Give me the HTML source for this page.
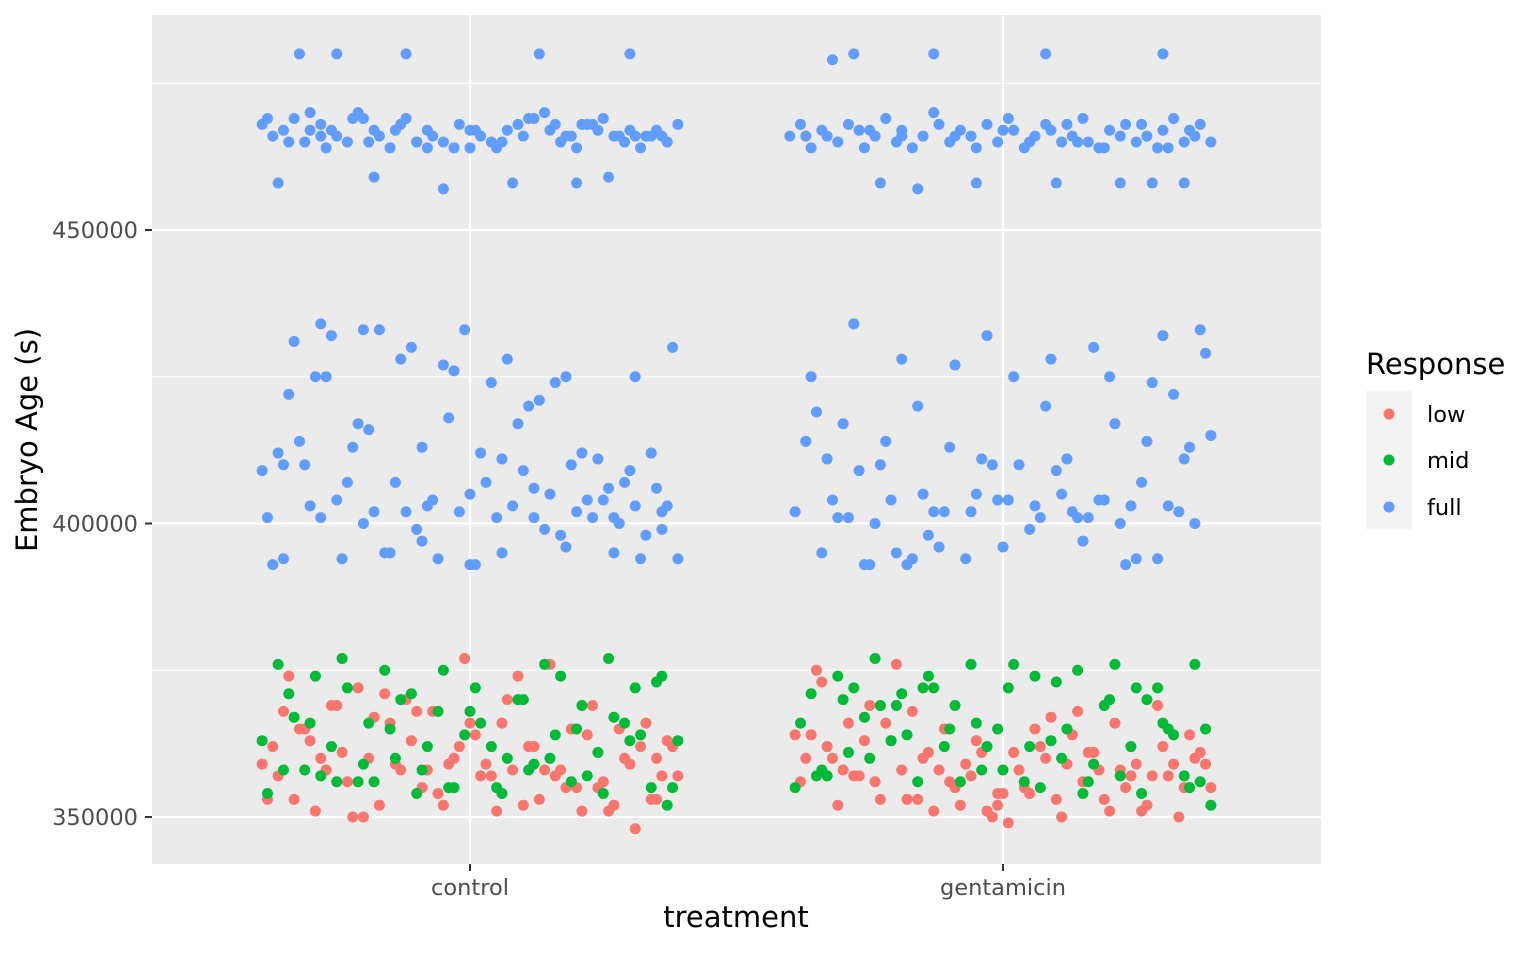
<!DOCTYPE html>
<html><head><meta charset="utf-8">
<style>
body{margin:0;background:#fff;}
svg text{font-family:"DejaVu Sans","Liberation Sans",sans-serif;}
</style></head>
<body>
<svg id="chart" width="1536" height="949" viewBox="0 0 1536 949" xmlns="http://www.w3.org/2000/svg">
<rect x="152" y="15" width="1169" height="849" fill="#EBEBEB"/>
<g id="grid"></g>
<g id="points"></g>
<g id="axes"></g>
<text transform="translate(37,440) rotate(-90)" text-anchor="middle" font-size="29" fill="#000">Embryo Age (s)</text>
<text x="736" y="927" text-anchor="middle" font-size="29" fill="#000">treatment</text>
<g>
<text x="1366" y="374" font-size="29" fill="#000">Response</text>
<rect x="1366" y="391" width="46" height="46" fill="#F2F2F2"/>
<rect x="1366" y="437" width="46" height="46" fill="#F2F2F2"/>
<rect x="1366" y="483" width="46" height="46" fill="#F2F2F2"/>
<circle cx="1389" cy="414" r="5.5" fill="#F8766D"/>
<circle cx="1389" cy="460" r="5.5" fill="#00BA38"/>
<circle cx="1389" cy="507" r="5.5" fill="#619CFF"/>
<text x="1427" y="422" font-size="22.5" fill="#000">low</text>
<text x="1427" y="468" font-size="22.5" fill="#000">mid</text>
<text x="1427" y="515" font-size="22.5" fill="#000">full</text>
</g>
</svg>
<script>
const categories = ["control","gentamicin"];
const yTicks = [350000,400000,450000];
const yMinorTicks = [375000,425000,475000];
const responses = ["low","mid","full"];
const colors = {low:"#F8766D",mid:"#00BA38",full:"#619CFF"};

// jitter offsets (category units) and ages (thousands of s)
const ctlFullTopX = [-.39,-.37,-.35,-.33,-.31,-.3,-.28,-.26,-.25,-.23,-.21,-.2,-.18,-.17,-.15,-.13,-.12,-.1,-.08,-.07,-.05,-.03,-.02,0,.02,.04,.05,.07,.09,.1,.12,.14,.15,.17,.19,.2,.22,.24,.25,.27,.29,.3,.32,.34,.35,.37,.39,-.32,-.25,-.12,.13,.3,-.18,-.05,.08,.2,.26,-.36,-.28,-.1,0,.16,.33,-.22,-.14,.06,.23,.36,-.3,.11,-.34,-.08,.18,.28,-.27,-.19,.01,.21,-.38,.31];
const ctlFullTopY = [468,466,467,469,465,470,468,467,466,465,470,469,467,466,464,468,469,465,467,466,465,464,468,467,466,465,464,467,468,466,469,470,467,465,466,464,468,467,469,466,465,467,464,466,467,465,468,480,480,480,480,480,459,457,458,458,459,458,466,465,464,468,466,469,467,465,468,466,467,469,465,464,466,466,464,465,467,468,469,466];
const ctlFullMidX = [-.39,-.38,-.36,-.35,-.33,-.32,-.3,-.29,-.28,-.26,-.25,-.24,-.22,-.21,-.2,-.18,-.17,-.16,-.14,-.13,-.12,-.1,-.09,-.08,-.06,-.05,-.04,-.02,-.01,0,.02,.03,.04,.06,.07,.08,.1,.11,.12,.14,.15,.16,.18,.19,.2,.22,.23,.24,.26,.27,.28,.3,.31,.32,.34,.35,.36,.38,.39,-.37,-.31,-.27,-.19,-.15,-.07,-.03,.01,.05,.09,.13,.17,.21,.25,.29,.33,.37,-.34,-.23,-.11,.0,.12,.27,-.28,-.09,.18,.36,-.2,.06,.31,-.35];
const ctlFullMidY = [409,401,412,394,431,414,403,425,401,432,404,394,413,417,400,402,433,395,407,428,402,399,413,403,394,427,418,402,433,405,412,407,424,395,428,403,409,420,401,399,405,424,396,410,402,404,401,411,406,395,400,409,403,394,412,406,402,430,394,393,410,425,416,395,404,426,393,401,417,421,398,412,404,407,398,403,422,407,430,393,406,401,434,397,425,399,433,411,425,410];
const ctlLowX = [-.39,-.37,-.35,-.33,-.31,-.29,-.27,-.25,-.23,-.21,-.19,-.17,-.15,-.13,-.11,-.09,-.07,-.05,-.03,-.01,.01,.03,.05,.07,.09,.11,.13,.15,.17,.19,.21,.23,.25,.27,.29,.31,.33,.35,.37,.39,-.38,-.34,-.3,-.26,-.22,-.18,-.14,-.1,-.06,-.02,.02,.06,.1,.14,.18,.22,.26,.3,.34,.38,-.36,-.28,-.2,-.12,-.04,.04,.12,.2,.28,.36,-.32,-.16,0,.16,.32,-.24,.08,.24,-.08,.35];
const ctlLowY = [359,362,368,353,365,351,358,369,356,372,360,352,366,358,363,355,368,352,360,377,364,359,351,370,374,362,353,376,358,365,351,369,356,352,360,348,366,353,363,357,353,374,363,369,350,367,359,368,354,362,357,366,352,358,355,364,351,359,353,362,357,360,350,370,359,357,362,355,365,357,365,371,366,357,362,361,358,355,358,360];
const ctlMidX = [-.39,-.36,-.34,-.31,-.29,-.26,-.24,-.21,-.19,-.16,-.14,-.11,-.09,-.06,-.04,-.01,.01,.04,.06,.09,.11,.14,.16,.19,.21,.24,.26,.29,.31,.34,.36,.39,-.38,-.33,-.28,-.23,-.18,-.13,-.08,-.03,.02,.07,.12,.17,.22,.27,.32,.37,-.35,-.25,-.15,-.05,.05,.15,.25,.35,-.3,-.1,.1,.3,-.2,.2,0,.38];
const ctlMidY = [363,376,371,358,374,362,377,356,366,375,360,371,358,368,355,364,372,362,354,370,358,376,364,356,369,361,377,366,372,355,374,363,354,367,357,372,356,370,362,355,366,360,359,374,357,367,364,352,358,356,365,375,355,360,354,373,366,354,370,363,359,365,368,355];
const genFullTopX = [-.4,-.38,-.36,-.34,-.33,-.31,-.29,-.27,-.26,-.24,-.22,-.2,-.19,-.17,-.15,-.13,-.12,-.1,-.08,-.06,-.05,-.03,-.01,.01,.02,.04,.06,.08,.09,.11,.13,.15,.16,.18,.2,.22,.23,.25,.27,.29,.3,.32,.34,.36,.37,.39,-.32,-.28,-.13,.08,.3,-.16,-.05,.1,.22,.28,.34,-.23,-.37,.0,.14,.26,-.09,.19,.35,-.25,.05,-.19,.31,.12];
const genFullTopY = [466,468,464,467,466,465,468,467,464,466,469,465,467,464,466,470,468,465,467,466,464,468,465,469,467,464,466,468,467,465,466,469,465,464,467,466,468,465,466,464,467,469,465,466,468,465,479,480,480,480,480,457,458,458,458,458,458,458,466,467,465,468,466,464,467,467,465,466,464,468];
const genFullMidX = [-.39,-.37,-.36,-.34,-.33,-.31,-.3,-.28,-.27,-.25,-.24,-.22,-.21,-.19,-.18,-.16,-.15,-.13,-.12,-.1,-.09,-.07,-.06,-.04,-.03,-.01,0,.02,.03,.05,.06,.08,.09,.11,.12,.14,.15,.17,.18,.2,.21,.23,.24,.26,.27,.29,.3,.32,.33,.35,.36,.38,.39,-.35,-.29,-.23,-.17,-.11,-.05,.01,.07,.13,.19,.25,.31,.37,-.26,-.14,-.02,.1,.22,.34,-.32,.16,.28,-.2];
const genFullMidY = [402,414,425,395,411,401,417,434,409,393,400,414,404,428,393,420,405,402,396,413,427,394,402,411,432,404,396,425,410,399,403,420,428,405,411,401,397,430,404,425,417,393,403,407,414,394,432,422,402,413,400,429,415,419,401,410,394,402,405,404,401,402,404,394,403,433,393,398,410,409,400,411,404,401,424,395];
const genLowX = [-.39,-.37,-.35,-.33,-.31,-.29,-.27,-.25,-.23,-.21,-.19,-.17,-.15,-.13,-.11,-.09,-.07,-.05,-.03,-.01,.01,.03,.05,.07,.09,.11,.13,.15,.17,.19,.21,.23,.25,.27,.29,.31,.33,.35,.37,.39,-.38,-.34,-.3,-.26,-.22,-.18,-.14,-.1,-.06,-.02,.02,.06,.1,.14,.18,.22,.26,.3,.34,.38,-.36,-.28,-.2,-.12,-.04,.04,.12,.2,.28,.36,-.32,-.16,0,.16,.32,-.24,.08,-.08,.24,-.01];
const genLowY = [364,360,375,362,352,366,357,369,353,363,358,368,360,351,365,355,359,363,351,354,349,358,354,362,367,350,364,356,361,353,366,355,359,352,369,357,350,364,361,355,356,373,358,363,366,353,361,356,357,350,361,365,353,368,358,358,351,362,355,359,364,357,376,358,361,355,359,351,357,360,360,353,354,361,359,356,360,352,357,352];
const genMidX = [-.39,-.36,-.34,-.31,-.29,-.26,-.24,-.21,-.19,-.16,-.14,-.11,-.09,-.06,-.04,-.01,.01,.04,.06,.09,.11,.14,.16,.19,.21,.24,.26,.29,.31,.34,.36,.39,-.38,-.33,-.28,-.23,-.18,-.13,-.08,-.03,.02,.07,.12,.17,.22,.27,.32,.37,-.35,-.25,-.15,-.05,.05,.15,.25,.35,-.3,-.1,.1,.3,-.2,.2,0,.38];
const genMidY = [355,371,358,374,361,367,377,363,371,356,374,362,369,376,358,365,372,356,374,363,360,375,356,369,376,362,354,372,365,357,376,352,366,357,372,369,364,372,356,362,376,355,365,359,357,370,364,356,357,360,372,366,362,354,372,355,370,365,373,366,369,370,358,365];

const groups = [
  {cat:0,resp:"full",xs:ctlFullTopX,ys:ctlFullTopY},
  {cat:0,resp:"full",xs:ctlFullMidX,ys:ctlFullMidY},
  {cat:0,resp:"low",xs:ctlLowX,ys:ctlLowY},
  {cat:0,resp:"mid",xs:ctlMidX,ys:ctlMidY},
  {cat:1,resp:"full",xs:genFullTopX,ys:genFullTopY},
  {cat:1,resp:"full",xs:genFullMidX,ys:genFullMidY},
  {cat:1,resp:"low",xs:genLowX,ys:genLowY},
  {cat:1,resp:"mid",xs:genMidX,ys:genMidY}
];

const NS="http://www.w3.org/2000/svg";
const panel={x0:152,x1:1321,y0:15,y1:864};
function xScale(c){ return 470 + c*533; }
function yScale(v){ return 817 - (v-350000)*(293.5/50000); }
function mk(tag,attrs,parent){const e=document.createElementNS(NS,tag);for(const k in attrs)e.setAttribute(k,attrs[k]);parent.appendChild(e);return e;}

const grid=document.getElementById('grid');
yMinorTicks.forEach(v=>{
  const l=mk('line',{x1:panel.x0,x2:panel.x1,y1:yScale(v),y2:yScale(v),stroke:'#fff','stroke-width':1.1},grid);
  
  
});
yTicks.forEach(v=>{
  const l=mk('line',{x1:panel.x0,x2:panel.x1,y1:yScale(v),y2:yScale(v),stroke:'#fff','stroke-width':2.2},grid);
  
  
});
categories.forEach((c,i)=>{
  const l=mk('line',{x1:xScale(i),x2:xScale(i),y1:panel.y0,y2:panel.y1,stroke:'#fff','stroke-width':2.2},grid);
  
  
});

const pts=document.getElementById('points');
groups.forEach(g=>{
  g.xs.forEach((j,k)=>{
    if(g.ys[k]===undefined) return;
    const p=mk('circle',{cx:xScale(g.cat+j),cy:yScale(g.ys[k]*1000),r:5.5,fill:colors[g.resp]},pts);
    
    
  });
});

const axes=document.getElementById('axes');
yTicks.forEach(v=>{
  const t=mk('line',{x1:145,x2:152,y1:yScale(v),y2:yScale(v),stroke:'#333','stroke-width':2}, axes);
  
  
  const tx=mk('text',{x:138,y:yScale(v)+8,'text-anchor':'end','font-size':22.5,fill:'#4D4D4D'},axes);
  tx.textContent=String(v);
  
  
});
categories.forEach((c,i)=>{
  const t=mk('line',{x1:xScale(i),x2:xScale(i),y1:864,y2:871,stroke:'#333','stroke-width':2},axes);
  
  
  const tx=mk('text',{x:xScale(i),y:895,'text-anchor':'middle','font-size':22.5,fill:'#4D4D4D'},axes);
  tx.textContent=c;
  
  
});
</script>
</body></html>
